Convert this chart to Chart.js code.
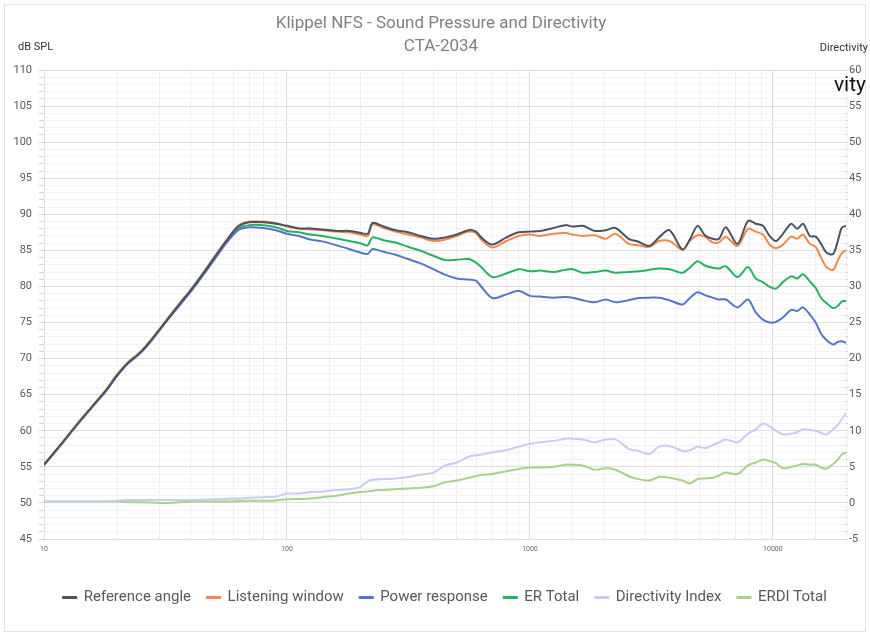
<!DOCTYPE html>
<html>
<head>
<meta charset="utf-8">
<title>Klippel NFS - Sound Pressure and Directivity</title>
<script src="https://cdn.jsdelivr.net/npm/chart.js@4.4.1/dist/chart.umd.min.js"></script>
<style>
  html, body { margin: 0; padding: 0; background: #fff; }
  #wrap { width: 870px; height: 637px; position: relative; }
</style>
</head>
<body>
<div id="wrap"><canvas id="cta"></canvas></div>
<script>
// frequencies (Hz)
const freqs = [10,12,14,16,18,20,22,25,28,32,36,40,45,50,56,63,70,80,90,100,
  112,125,140,160,180,200,215,225,250,280,315,355,400,450,500,560,600,630,700,800,
  900,1000,1100,1250,1400,1500,1650,1850,2050,2250,2550,2800,3100,3400,3750,4250,4550,4900,5250,5650,
  6000,6400,7150,7900,8500,9100,9700,10300,11000,11900,12600,13300,14200,15000,15800,16600,17700,18500,19200,20000];

// dB SPL
const referenceAngle = [55.3,58.5,61.3,63.6,65.6,67.7,69.3,70.9,72.8,75.3,77.5,79.4,81.7,83.9,86.2,88.3,88.9,88.9,88.7,88.4,
  88.05,88.05,87.9,87.7,87.7,87.45,87.3,88.8,88.3,87.8,87.5,87.0,86.6,86.8,87.2,87.8,87.6,86.8,85.8,86.8,
  87.5,87.6,87.7,88.1,88.5,88.3,88.4,87.7,87.8,88.1,86.6,86.2,85.6,86.8,87.8,85.1,86.5,88.4,87.1,86.6,
  86.6,88.2,85.9,89.1,88.7,88.4,87.0,86.3,87.3,88.7,88.0,88.7,87.0,86.9,85.9,84.7,84.5,86.3,88.1,88.4];
const listeningWindow = [55.3,58.5,61.3,63.6,65.7,67.8,69.4,71.0,72.9,75.4,77.6,79.5,81.8,84.0,86.3,88.4,89.0,89.0,88.8,88.3,
  88.0,87.9,87.8,87.6,87.5,87.2,87.0,88.6,88.1,87.6,87.2,86.8,86.3,86.5,87.0,87.6,87.4,86.5,85.4,86.3,
  87.0,87.2,87.0,87.3,87.4,87.2,87.0,87.1,86.6,87.3,85.9,85.7,85.5,86.3,86.3,85.1,86.3,87.1,86.9,86.1,
  86.1,86.9,85.6,88.0,87.6,87.2,85.8,85.3,85.8,86.9,86.6,87.2,85.9,85.5,84.0,82.7,82.3,83.6,84.6,85.0];
const powerResponse = [55.2,58.4,61.2,63.5,65.5,67.6,69.2,70.8,72.7,75.2,77.3,79.2,81.5,83.6,85.9,87.8,88.2,88.1,87.8,87.3,
  87.0,86.5,86.25,85.7,85.2,84.7,84.5,85.2,84.8,84.4,83.8,83.2,82.4,81.6,81.1,80.95,80.8,80.0,78.4,78.9,
  79.4,78.7,78.6,78.45,78.55,78.45,78.1,77.8,78.2,77.8,78.1,78.4,78.45,78.45,78.1,77.5,78.4,79.2,78.8,78.45,
  78.2,78.2,77.1,78.2,76.4,75.4,75.0,75.1,75.7,76.75,76.6,77.1,76.1,75.0,73.45,72.6,71.96,72.3,72.4,72.2];
const erTotal = [55.3,58.5,61.3,63.6,65.6,67.7,69.3,70.9,72.8,75.3,77.4,79.3,81.6,83.8,86.0,88.0,88.5,88.5,88.2,87.7,
  87.5,87.2,87.0,86.65,86.3,86.0,85.7,86.8,86.4,86.1,85.5,84.95,84.25,83.65,83.7,83.8,83.3,82.7,81.3,81.8,
  82.4,82.1,82.2,82.0,82.3,82.4,81.9,82.0,82.2,81.9,82.0,82.1,82.3,82.5,82.4,81.9,82.6,83.5,82.9,82.6,
  82.5,82.8,81.3,82.7,81.1,80.6,79.95,79.7,80.6,81.4,81.1,81.7,80.7,79.8,78.4,77.7,77.0,77.3,77.9,78.0];

// directivity (dB, right axis)
const directivityIndex = [0.2,0.2,0.2,0.2,0.2,0.3,0.4,0.4,0.4,0.4,0.4,0.4,0.45,0.5,0.55,0.6,0.7,0.8,0.85,1.3,
  1.3,1.5,1.6,1.8,1.9,2.2,3.0,3.2,3.3,3.4,3.6,3.9,4.2,5.2,5.6,6.4,6.6,6.7,7.0,7.3,
  7.8,8.2,8.4,8.6,8.9,8.9,8.8,8.4,8.8,8.8,7.5,7.2,6.8,7.8,7.9,7.2,7.3,7.8,7.6,8.0,
  8.4,8.8,8.4,9.6,10.2,11.0,10.6,10.0,9.5,9.6,9.8,10.2,10.1,10.0,9.7,9.5,10.2,10.8,11.6,12.4];
const erdiTotal = [0.2,0.2,0.2,0.2,0.2,0.2,0.1,0.1,0.05,0.0,0.1,0.2,0.2,0.2,0.2,0.25,0.3,0.3,0.35,0.5,
  0.55,0.6,0.8,1.0,1.3,1.5,1.6,1.7,1.8,1.9,2.0,2.1,2.3,2.9,3.1,3.5,3.7,3.9,4.0,4.4,
  4.7,4.9,4.9,5.0,5.3,5.3,5.2,4.6,4.8,4.6,3.7,3.3,3.1,3.6,3.5,3.1,2.7,3.3,3.4,3.5,
  3.8,4.2,4.0,5.2,5.6,6.0,5.8,5.5,4.8,5.0,5.2,5.4,5.3,5.3,4.9,4.75,5.4,6.0,6.7,7.0];

const decadeLabels = [10, 100, 1000, 10000];
const titleLines = ['Klippel NFS - Sound Pressure and Directivity', 'CTA-2034'];

const toPoints = (vals) => vals.map((v, i) => ({ x: freqs[i], y: v }));

const makeSet = (label, vals, color, axis) => ({
    label: label,
    data: toPoints(vals),
    borderColor: color,
    backgroundColor: color,
    borderWidth: 2,
    pointRadius: 0,
    tension: 0.3,
    fill: false,
    yAxisID: axis
});

// texts outside the plot + frame
const extraText = {
    id: 'extraText',
    afterLayout(chart) {
        // legend sits a bit right of centre in the original
        chart.legend.left += 10;
        chart.legend.right += 10;
    },
    beforeDraw(chart) {
        const ctx = chart.ctx;
        ctx.save();
        ctx.fillStyle = '#ffffff';
        ctx.fillRect(0, 0, chart.width, chart.height);
        ctx.strokeStyle = '#e4e4e4';
        ctx.lineWidth = 1;
        ctx.strokeRect(4.5, 4.5, 861, 627);
        ctx.restore();
    },
    afterDraw(chart) {
        const ctx = chart.ctx;
        ctx.save();
        ctx.textBaseline = 'middle';
        ctx.textAlign = 'center';
        ctx.fillStyle = '#808080';
        ctx.font = '17px Roboto';
        ctx.fillText(titleLines[0], 441, 24);
        ctx.fillText(titleLines[1], 441, 47);
        ctx.fillStyle = '#333333';
        ctx.font = '11px Roboto';
        ctx.textAlign = 'left';
        ctx.fillText('dB SPL', 18, 47);
        ctx.textAlign = 'right';
        ctx.fillText('Directivity', 868, 48);
        ctx.fillStyle = '#111111';
        ctx.font = '21px Roboto';
        ctx.fillText('vity', 866, 86);
        ctx.restore();
    }
};

const initChart = () => {
    Chart.defaults.font.family = 'Roboto';
    const ctx = document.getElementById('cta').getContext('2d');
    new Chart(ctx, {
        type: 'line',
        data: {
            datasets: [
                makeSet('Reference angle', referenceAngle, '#4b5361', 'y'),
                makeSet('Listening window', listeningWindow, '#ee8a4c', 'y'),
                makeSet('Power response', powerResponse, '#5577c2', 'y'),
                makeSet('ER Total', erTotal, '#27b064', 'y'),
                makeSet('Directivity Index', directivityIndex, '#c7cdec', 'y2'),
                makeSet('ERDI Total', erdiTotal, '#a9d08c', 'y2')
            ]
        },
        options: {
            responsive: true,
            maintainAspectRatio: false,
            animation: false,
            layout: { padding: { top: 70, left: 0, right: 0, bottom: 22 } },
            scales: {
                x: {
                    type: 'logarithmic',
                    min: 10,
                    max: 20000,
                    afterFit: (s) => { s.height = 35; },
                    grid: {
                        color: (c) => decadeLabels.includes(c.tick && c.tick.value) ? '#dadada' : '#efefef',
                        drawTicks: false
                    },
                    border: { display: false },
                    ticks: {
                        autoSkip: false,
                        maxRotation: 0,
                        padding: 6,
                        color: '#666',
                        font: { size: 7 },
                        callback: (v) => decadeLabels.includes(v) ? String(v) : ''
                    }
                },
                y: {
                    position: 'left',
                    min: 45,
                    max: 110,
                    afterFit: (s) => { s.width = 44; },
                    grid: {
                        color: (c) => (c.tick && c.tick.value % 5 === 0) ? '#dedede' : '#f3f3f3',
                        tickColor: '#d4d4d4',
                        tickLength: 5
                    },
                    border: { display: false },
                    ticks: {
                        stepSize: 1,
                        autoSkip: false,
                        padding: 7,
                        color: '#595959',
                        font: { size: 11 },
                        callback: (v) => v % 5 === 0 ? v : ''
                    }
                },
                y2: {
                    position: 'right',
                    min: -5,
                    max: 60,
                    afterFit: (s) => { s.width = 24; },
                    grid: {
                        drawOnChartArea: false,
                        tickColor: '#d4d4d4',
                        tickLength: 2
                    },
                    border: { display: false },
                    ticks: {
                        stepSize: 1,
                        autoSkip: false,
                        padding: 1,
                        color: '#595959',
                        font: { size: 11 },
                        callback: (v) => v % 5 === 0 ? v : ''
                    }
                }
            },
            plugins: {
                title: { display: false },
                tooltip: { enabled: false },
                legend: {
                    position: 'bottom',
                    labels: {
                        boxWidth: 13,
                        boxHeight: 1,
                        padding: 16,
                        color: '#595959',
                        font: { size: 15 }
                    }
                }
            }
        },
        plugins: [extraText]
    });
};

document.addEventListener('DOMContentLoaded', initChart);
</script>
</body>
</html>
